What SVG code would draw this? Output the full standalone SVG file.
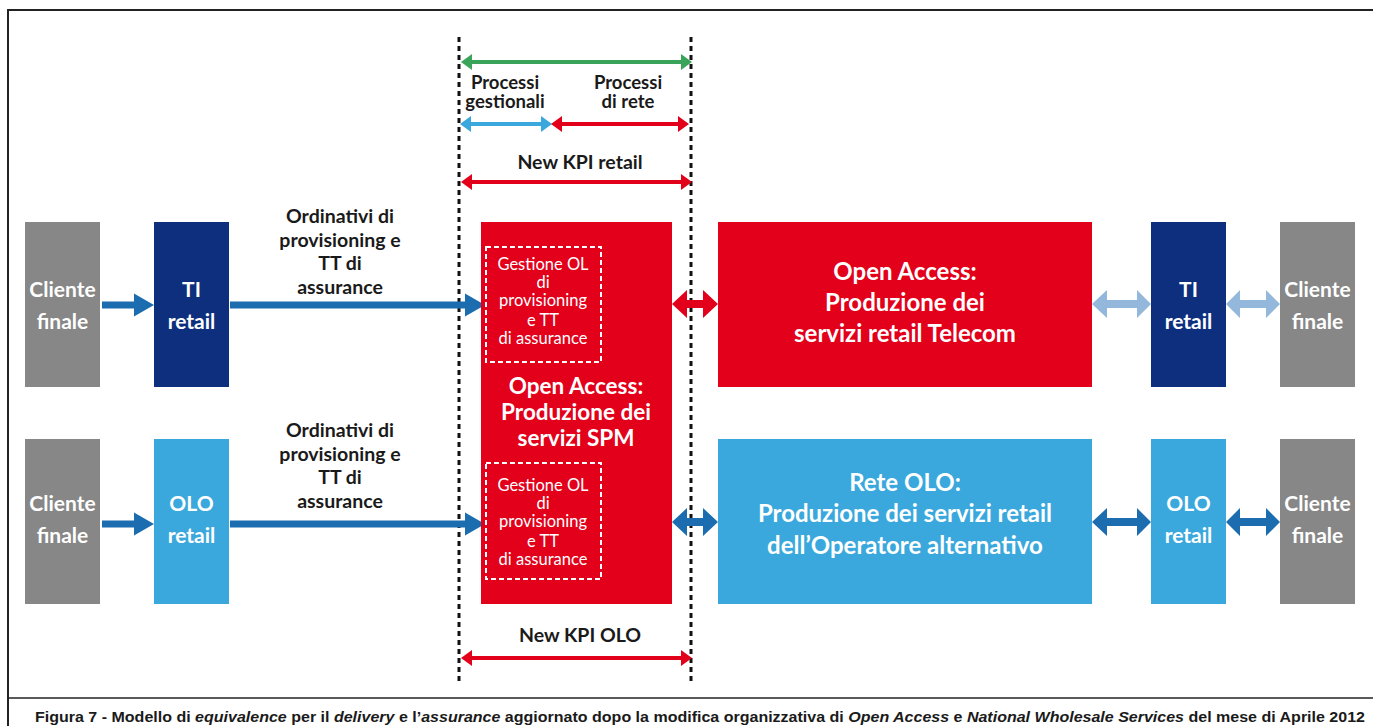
<svg xmlns="http://www.w3.org/2000/svg" width="1373" height="726" viewBox="0 0 1373 726">
<style>
.bx{font-family:Lato,"Noto Sans",sans-serif;font-weight:700;font-size:21px;fill:#fff;text-anchor:middle}
.bw{font-family:Lato,"Noto Sans",sans-serif;font-weight:700;font-size:24px;fill:#fff;text-anchor:middle}
.bm{font-family:Lato,"Noto Sans",sans-serif;font-weight:700;font-size:22.5px;fill:#fff;text-anchor:middle}
.sm{font-family:Lato,"Noto Sans",sans-serif;font-weight:400;font-size:16.5px;fill:#fff;text-anchor:middle}
.lb{font-family:Lato,"Noto Sans",sans-serif;font-weight:700;font-size:19.5px;fill:#1a1a1a;text-anchor:middle}
.lt{font-family:Lato,"Noto Sans",sans-serif;font-weight:700;font-size:18.5px;fill:#1a1a1a;text-anchor:middle}
.cap{font-family:"Liberation Sans",Arial,sans-serif;font-weight:700;font-size:15.5px;fill:#1a1a1a}
.gray{fill:#878787}.navy{fill:#0d2f7e}.sky{fill:#3aa8dc}.red{fill:#e2001a}
.dash{fill:none;stroke:#fff;stroke-width:2;stroke-dasharray:5 3}
.vline{stroke:#111;stroke-width:3;stroke-dasharray:5 4}
</style>
<rect x="0" y="0" width="1373" height="726" fill="#fff"/>
<g id="frame" stroke="#222" fill="none">
<path d="M1373,10 H8 V726" stroke-width="2"/>
<line x1="8" y1="698" x2="1373" y2="698" stroke-width="1.5"/>
</g>
<g id="guides">
<line class="vline" x1="459" y1="37" x2="459" y2="682"/>
<line class="vline" x1="691" y1="37" x2="691" y2="682"/>
</g>
<g id="connectors">
<path fill="#3aa55a" d="M461,62 L472,54 V60 H681 V54 L692,62 L681,70 V64 H472 V70 Z"/>
<path fill="#3aa8dc" d="M460,124 L471,116 V122 H541 V116 L552,124 L541,132 V126 H471 V132 Z"/>
<path fill="#e2001a" d="M551,124 L562,116 V122 H678 V116 L689,124 L678,132 V126 H562 V132 Z"/>
<path fill="#e2001a" d="M461,182 L472,174 V180 H681 V174 L692,182 L681,190 V184 H472 V190 Z"/>
<path fill="#e2001a" d="M461,658 L472,650 V656 H681 V650 L692,658 L681,666 V660 H472 V666 Z"/>
<path fill="#1b6db0" d="M102,301.5 H134 V293.5 L154,305 L134,316.5 V308.5 H102 Z"/>
<path fill="#1b6db0" d="M230,301.5 H465 V293.5 L485,305 L465,316.5 V308.5 H230 Z"/>
<path fill="#e2001a" d="M672,304 L687,290 V300 H703 V290 L718,304 L703,318 V308 H687 V318 Z"/>
<path fill="#93b8dc" d="M1092,304 L1107,290 V300 H1137 V290 L1151,304 L1137,318 V308 H1107 V318 Z"/>
<path fill="#93b8dc" d="M1226,304 L1240,290 V300 H1266 V290 L1280,304 L1266,318 V308 H1240 V318 Z"/>
<path fill="#1b6db0" d="M102,520.5 H134 V512.5 L154,524 L134,535.5 V527.5 H102 Z"/>
<path fill="#1b6db0" d="M230,520.5 H465 V512.5 L485,524 L465,535.5 V527.5 H230 Z"/>
<path fill="#1b6db0" d="M672,522 L687,508 V518 H703 V508 L718,522 L703,536 V526 H687 V536 Z"/>
<path fill="#1b6db0" d="M1092,522 L1107,508 V518 H1137 V508 L1151,522 L1137,536 V526 H1107 V536 Z"/>
<path fill="#1b6db0" d="M1226,522 L1240,508 V518 H1266 V508 L1280,522 L1266,536 V526 H1240 V536 Z"/>
</g>
<g id="labels">
<text class="lt" x="505" y="89">Processi</text>
<text class="lt" x="505" y="108">gestionali</text>
<text class="lt" x="628" y="89">Processi</text>
<text class="lt" x="628" y="108">di rete</text>
<text class="lb" x="580" y="169">New KPI retail</text>
<text class="lb" x="580" y="642">New KPI OLO</text>
<text class="lb" x="340" y="223">Ordinativi di</text>
<text class="lb" x="340" y="247">provisioning e</text>
<text class="lb" x="340" y="270">TT di</text>
<text class="lb" x="340" y="294">assurance</text>
<text class="lb" x="340" y="437">Ordinativi di</text>
<text class="lb" x="340" y="461">provisioning e</text>
<text class="lb" x="340" y="484">TT di</text>
<text class="lb" x="340" y="508">assurance</text>
</g>
<g id="cliente-finale-1"><rect class="gray" x="25" y="222" width="75" height="165"/><text class="bx" x="62.5" y="297">Cliente</text><text class="bx" x="62.5" y="329">finale</text></g>
<g id="ti-retail-1"><rect class="navy" x="154" y="222" width="75" height="165"/><text class="bx" x="191.5" y="297">TI</text><text class="bx" x="191.5" y="329">retail</text></g>
<g id="cliente-finale-2"><rect class="gray" x="25" y="439" width="75" height="165"/><text class="bx" x="62.5" y="511">Cliente</text><text class="bx" x="62.5" y="543">finale</text></g>
<g id="olo-retail-1"><rect class="sky" x="154" y="439" width="75" height="165"/><text class="bx" x="191.5" y="511">OLO</text><text class="bx" x="191.5" y="543">retail</text></g>
<g id="open-access-spm">
<rect class="red" x="481" y="222" width="191" height="382"/>
<rect class="dash" x="486" y="247" width="115" height="115"/>
<text class="sm" x="543" y="270">Gestione OL</text><text class="sm" x="543" y="288">di</text><text class="sm" x="543" y="306">provisioning</text><text class="sm" x="543" y="326">e TT</text><text class="sm" x="543" y="344">di assurance</text>
<text class="bm" x="576" y="394">Open Access:</text><text class="bm" x="576" y="420">Produzione dei</text><text class="bm" x="576" y="446">servizi SPM</text>
<rect class="dash" x="486" y="463" width="115" height="116"/>
<text class="sm" x="543" y="491">Gestione OL</text><text class="sm" x="543" y="509">di</text><text class="sm" x="543" y="527">provisioning</text><text class="sm" x="543" y="547">e TT</text><text class="sm" x="543" y="565">di assurance</text>
</g>
<g id="open-access-telecom"><rect class="red" x="718" y="222" width="374" height="165"/><text class="bw" x="905" y="280">Open Access:</text><text class="bw" x="905" y="311">Produzione dei</text><text class="bw" x="905" y="342">servizi retail Telecom</text></g>
<g id="ti-retail-2"><rect class="navy" x="1151" y="222" width="75" height="165"/><text class="bx" x="1188.5" y="297">TI</text><text class="bx" x="1188.5" y="329">retail</text></g>
<g id="cliente-finale-3"><rect class="gray" x="1280" y="222" width="75" height="165"/><text class="bx" x="1317.5" y="297">Cliente</text><text class="bx" x="1317.5" y="329">finale</text></g>
<g id="rete-olo"><rect class="sky" x="718" y="439" width="374" height="165"/><text class="bw" x="905" y="491">Rete OLO:</text><text class="bw" x="905" y="522">Produzione dei servizi retail</text><text class="bw" x="905" y="554">dell’Operatore alternativo</text></g>
<g id="olo-retail-2"><rect class="sky" x="1151" y="439" width="75" height="165"/><text class="bx" x="1188.5" y="511">OLO</text><text class="bx" x="1188.5" y="543">retail</text></g>
<g id="cliente-finale-4"><rect class="gray" x="1280" y="439" width="75" height="165"/><text class="bx" x="1317.5" y="511">Cliente</text><text class="bx" x="1317.5" y="543">finale</text></g>
<g id="caption"><text class="cap" x="35" y="722" textLength="1330" lengthAdjust="spacingAndGlyphs">Figura 7 - Modello di <tspan font-style="italic">equivalence</tspan> per il <tspan font-style="italic">delivery</tspan> e l’<tspan font-style="italic">assurance</tspan> aggiornato dopo la modifica organizzativa di <tspan font-style="italic">Open Access</tspan> e <tspan font-style="italic">National Wholesale Services</tspan> del mese di Aprile 2012</text></g>
</svg>
